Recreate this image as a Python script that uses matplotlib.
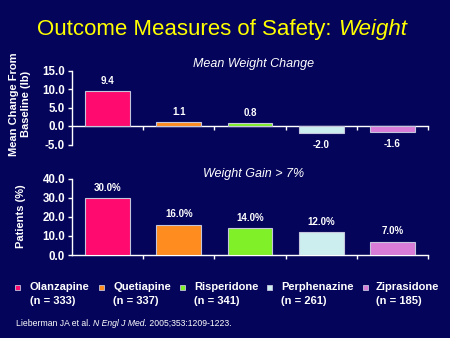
import matplotlib
matplotlib.use("Agg")
import matplotlib.pyplot as plt
from matplotlib.patches import Rectangle

# --- data -------------------------------------------------------------
drugs = ["Olanzapine", "Quetiapine", "Risperidone", "Perphenazine", "Ziprasidone"]
n_patients = [333, 337, 341, 261, 185]
mean_change_lb = [9.4, 1.1, 0.8, -2.0, -1.6]
pct_gain_over_7 = [30.0, 16.0, 14.0, 12.0, 7.0]
top_ticks = [-5.0, 0.0, 5.0, 10.0, 15.0]
bottom_ticks = [0.0, 10.0, 20.0, 30.0, 40.0]

colors = ["#FF0A6E", "#FF8C1E", "#80F028", "#CCEEEE", "#D87CD8"]
bg = "#04045A"
fg = "white"
edge = "#C4C4DC"

plt.rcParams["font.family"] = ["Liberation Sans", "DejaVu Sans"]

W, H = 450, 338
fig = plt.figure(figsize=(W / 100, H / 100), dpi=100, facecolor=bg)


def fx(px):
    return px / W


def fy(py):
    return 1 - py / H


def style_axes(ax, ylim, ticks):
    ax.set_facecolor(bg)
    ax.set_xlim(-0.5, len(drugs) - 0.5)
    ax.set_ylim(*ylim)
    for s in ("top", "right"):
        ax.spines[s].set_visible(False)
    ax.spines["left"].set_color(fg)
    ax.spines["bottom"].set_color(fg)
    ax.spines["left"].set_linewidth(1.0)
    ax.spines["bottom"].set_linewidth(1.0)
    ax.spines["bottom"].set_position(("data", 0))
    ax.set_yticks(ticks)
    ax.set_yticklabels([f"{t:.1f}" for t in ticks])
    ax.set_xticks([i + 0.5 for i in range(len(drugs))])
    ax.set_xticklabels([])
    ax.tick_params(axis="y", colors=fg, length=3, width=1, pad=2, labelsize=8.3)
    ax.tick_params(axis="x", colors=fg, length=3, width=1, direction="out")
    for lab in ax.get_yticklabels():
        lab.set_fontweight("bold")


# --- top panel: mean weight change ------------------------------------
ax1 = fig.add_axes([fx(72), fy(144.5), fx(356), 74 / H])
style_axes(ax1, (-5, 15), top_ticks)
ax1.bar(range(len(drugs)), mean_change_lb, width=0.63, color=colors,
        edgecolor=edge, linewidth=0.8, zorder=3)
for i, v in enumerate(mean_change_lb):
    ax1.annotate(f"{v:.1f}", (i, v), xytext=(0, 7.5 if v >= 0 else -8.5),
                 textcoords="offset points", ha="center",
                 va="center", color=fg, fontsize=7, fontweight="bold")
ax1.text(0.51, 1.09, "Mean Weight Change", transform=ax1.transAxes,
         ha="center", va="center", color=fg, fontsize=9, style="italic")
fig.text(fx(20), fy(104), "Mean Change From\nBaseline (lb)", rotation=90,
         ha="center", va="center", color=fg, fontsize=8, fontweight="bold",
         linespacing=1.15, multialignment="center")

# --- bottom panel: share of patients gaining >7% ----------------------
ax2 = fig.add_axes([fx(72), fy(255), fx(356), 76 / H])
style_axes(ax2, (0, 40), bottom_ticks)
ax2.bar(range(len(drugs)), pct_gain_over_7, width=0.63, color=colors,
        edgecolor=edge, linewidth=0.8, zorder=3)
for i, v in enumerate(pct_gain_over_7):
    ax2.annotate(f"{v:.1f}%", (i, v), xytext=(0, 7.5),
                 textcoords="offset points", ha="center",
                 va="center", color=fg, fontsize=7, fontweight="bold")
ax2.text(0.51, 1.07, "Weight Gain > 7%", transform=ax2.transAxes,
         ha="center", va="center", color=fg, fontsize=9, style="italic")
fig.text(fx(21), fy(216), "Patients (%)", rotation=90,
         ha="center", va="center", color=fg, fontsize=8, fontweight="bold")

# --- title ------------------------------------------------------------
t1 = fig.text(fx(37), fy(29), "Outcome Measures of Safety: ",
              ha="left", va="center", color="#FFFF00", fontsize=16)
ax1.annotate("Weight", xy=(1, 0), xycoords=t1, ha="left", va="bottom",
             color="#FFFF00", fontsize=16, style="italic",
             annotation_clip=False)

# --- legend -----------------------------------------------------------
marker_x = [17, 101, 182, 269, 365]
text_x = [30, 113, 194, 281, 376]
for mx, tx, name, n, c in zip(marker_x, text_x, drugs, n_patients, colors):
    fig.patches.append(Rectangle((fx(mx - 2.5), fy(289.5)), fx(5), 5 / H,
                                 transform=fig.transFigure, facecolor=c,
                                 edgecolor=edge, linewidth=0.6))
    fig.text(fx(tx), fy(287.5), name, ha="left", va="center", color=fg,
             fontsize=8, fontweight="bold")
    fig.text(fx(tx), fy(301.5), f"(n = {n})", ha="left", va="center",
             color=fg, fontsize=8, fontweight="bold")

# --- citation ---------------------------------------------------------
c1 = fig.text(fx(16), fy(323.5), "Lieberman JA et al. ", ha="left",
              va="center", color=fg, fontsize=6.2)
c2 = ax1.annotate("N Engl J Med.", xy=(1, 0), xycoords=c1, ha="left",
                  va="bottom", color=fg, fontsize=6.2, style="italic",
                  annotation_clip=False)
ax1.annotate(" 2005;353:1209-1223.", xy=(1, 0), xycoords=c2, ha="left",
             va="bottom", color=fg, fontsize=6.2, annotation_clip=False)

fig.savefig("out.png", dpi=100, facecolor=bg)
